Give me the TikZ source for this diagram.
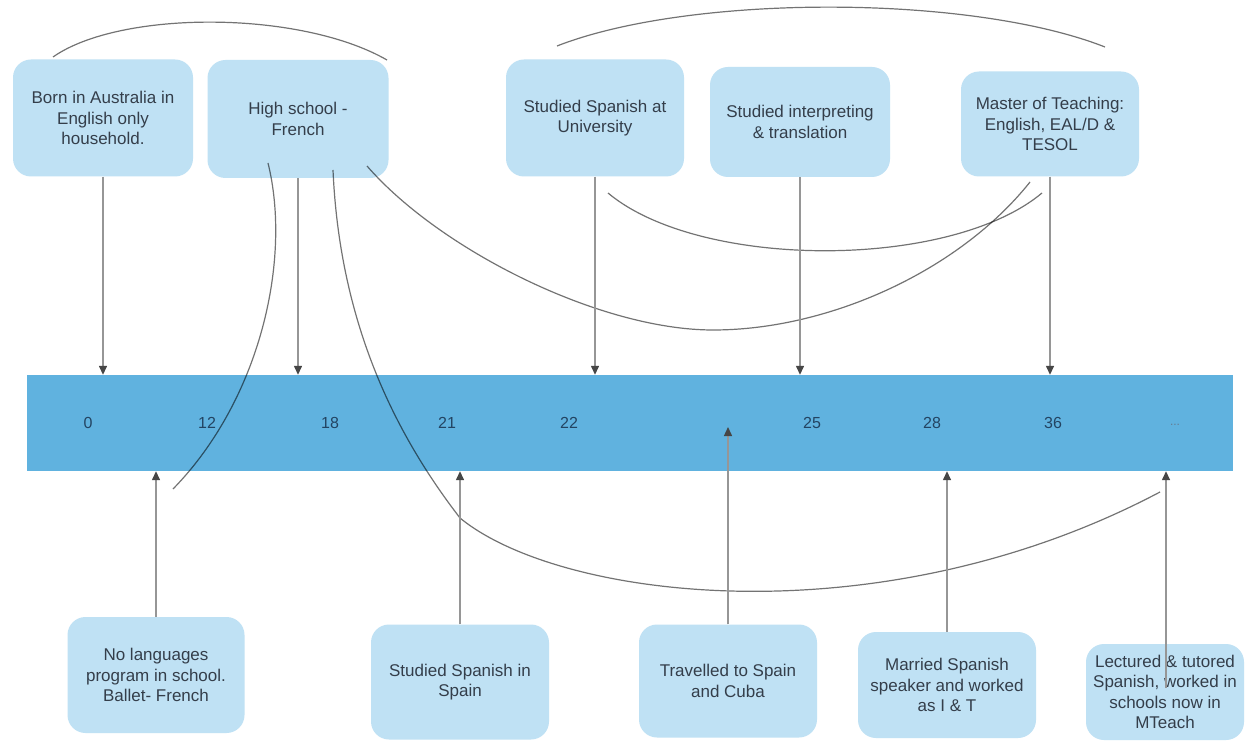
\documentclass[tikz,border=0pt]{standalone}
\usepackage{fontspec}
\setmainfont{Liberation Sans}
\usetikzlibrary{arrows.meta,calc}
\definecolor{boxblue}{RGB}{191,225,244}
\definecolor{barblue}{RGB}{96,178,223}
\definecolor{textcol}{RGB}{52,62,74}
\definecolor{numcol}{RGB}{35,68,98}
\definecolor{arrowgray}{RGB}{150,150,150}
\definecolor{headgray}{RGB}{70,70,70}
\begin{document}
\begin{tikzpicture}[x=1pt,y=-1pt,
  box/.style={fill=boxblue, rounded corners=18pt, align=center, text=textcol, inner sep=2pt,
    font=\fontsize{17}{20.5}\selectfont},
  arr/.style={draw=arrowgray, line width=1.4pt, -{Triangle[width=8pt,length=9pt,color=headgray]}},
  link/.style={draw=black, draw opacity=0.55, line width=1.2pt},
  num/.style={text=numcol, font=\fontsize{16}{16}\selectfont}]
\useasboundingbox (0,0) rectangle (1247,743);
\fill[white] (0,0) rectangle (1247,743);

% timeline bar
\node[fill=barblue, minimum width=1206pt, minimum height=96pt, inner sep=0] (bar) at (630,423) {};
\node[num] (n0) at (88,423) {0};
\node[num] (n12) at (207,423) {12};
\node[num] (n18) at (330,423) {18};
\node[num] (n21) at (447,423) {21};
\node[num] (n22) at (569,423) {22};
\node[num] (n25) at (812,423) {25};
\node[num] (n28) at (932,423) {28};
\node[num] (n36) at (1053,423) {36};
\node[text=numcol!70, font=\fontsize{12}{12}\selectfont] (ndots) at (1175,425) {...};

% top boxes
\node[box, minimum width=180pt, minimum height=117pt] (born) at (103,118) {Born in Australia in\\English only\\household.};
\node[box, minimum width=181pt, minimum height=118pt] (hs) at (298,119) {High school -\\French};
\node[box, minimum width=178pt, minimum height=117pt] (uni) at (595,118) {Studied Spanish at\\University};
\node[box, minimum width=180pt, minimum height=110pt] (interp) at (800,122) {Studied interpreting\\\& translation};
\node[box, minimum width=178pt, minimum height=105pt] (master) at (1050,124) {Master of Teaching:\\English, EAL/D \&\\TESOL};

% bottom boxes
\node[box, minimum width=177pt, minimum height=116pt] (nolang) at (156,675) {No languages\\program in school.\\Ballet- French};
\node[box, minimum width=178pt, minimum height=115pt] (spain) at (460,682) {Studied Spanish in\\Spain};
\node[box, minimum width=178pt, minimum height=113pt] (travel) at (728,681) {Travelled to Spain\\and Cuba};
\node[box, minimum width=178pt, minimum height=106pt] (married) at (947,685) {Married Spanish\\speaker and worked\\as I \& T};
\node[box, minimum width=158pt, minimum height=96pt] (lect) at (1165,692) {Lectured \& tutored\\Spanish, worked in\\schools now in\\MTeach};

% curve end points
\coordinate (a1) at (53,57);
\coordinate (a2) at (387,60);
\coordinate (b1) at (557,46);
\coordinate (b2) at (1105,47);
\coordinate (c1) at (268,163);
\coordinate (c2) at (173,489);
\coordinate (d1) at (333,170);
\coordinate (d2) at (460,518);
\coordinate (d3) at (1160,492);
\coordinate (e1) at (367,166);
\coordinate (e2) at (713,330);
\coordinate (e3) at (1030,182);
\coordinate (f1) at (608,193);
\coordinate (f2) at (1042,193);

% linking curves
\draw[link] (a1) .. controls (120,10) and (300,10) .. (a2);
\draw[link] (b1) .. controls (690,-6) and (970,-6) .. (b2);
\draw[link] (c1) .. controls (292,260) and (260,400) .. (c2);
\draw[link] (d1) .. controls (340,330) and (400,440) .. (d2)
                 .. controls (560,600) and (880,640) .. (d3);
\draw[link] (e1) .. controls (440,250) and (600,330) .. (e2)
                 .. controls (830,330) and (960,270) .. (e3);
\draw[link] (f1) .. controls (700,270) and (950,270) .. (f2);

% arrows from top boxes
\draw[arr] (born.south) -- (born.south |- bar.north);
\draw[arr] (hs.south) -- (hs.south |- bar.north);
\draw[arr] (uni.south) -- (uni.south |- bar.north);
\draw[arr] (interp.south) -- (interp.south |- bar.north);
\draw[arr] (master.south) -- (master.south |- bar.north);

% arrows from bottom boxes
\coordinate (tend) at (728,427);
\coordinate (lstart) at (1166,688);
\draw[arr] (nolang.north) -- (nolang.north |- bar.south);
\draw[arr] (spain.north) -- (spain.north |- bar.south);
\draw[arr] (travel.north) -- (tend);
\draw[arr] (married.north) -- (married.north |- bar.south);
\draw[arr] (lstart) -- (lstart |- bar.south);
\end{tikzpicture}
\end{document}
